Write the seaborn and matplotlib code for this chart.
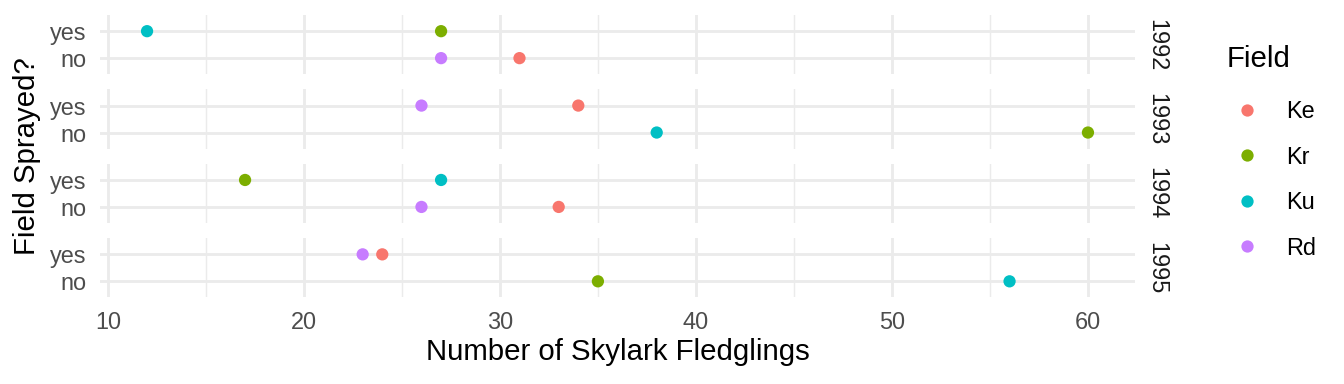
import matplotlib
matplotlib.use("Agg")
import matplotlib.pyplot as plt
import seaborn as sns
import pandas as pd
from matplotlib.lines import Line2D
from matplotlib.ticker import MultipleLocator

# ---- data ----
years = [1992, 1993, 1994, 1995]
fields = ["Ke", "Kr", "Ku", "Rd"]
sprayed_levels = ["yes", "no"]  # top to bottom within each panel

# counts per year, in field order Ke, Kr, Ku, Rd
fledglings_1992 = [31, 27, 12, 27]
sprayed_1992 = ["no", "yes", "yes", "no"]
fledglings_1993 = [34, 60, 38, 26]
sprayed_1993 = ["yes", "no", "no", "yes"]
fledglings_1994 = [33, 17, 27, 26]
sprayed_1994 = ["no", "yes", "yes", "no"]
fledglings_1995 = [24, 35, 56, 23]
sprayed_1995 = ["yes", "no", "no", "yes"]

field_colors = ["#F8766D", "#7CAE00", "#00BFC4", "#C77CFF"]

x_ticks = [10, 20, 30, 40, 50, 60]

counts = {1992: fledglings_1992, 1993: fledglings_1993, 1994: fledglings_1994, 1995: fledglings_1995}
sprays = {1992: sprayed_1992, 1993: sprayed_1993, 1994: sprayed_1994, 1995: sprayed_1995}
rows = []
for yr in years:
    for f, c, s in zip(fields, counts[yr], sprays[yr]):
        rows.append({"Year": yr, "Field": f, "Fledglings": c, "Sprayed": s})
df = pd.DataFrame(rows)

# ---- style ----
FONT = ["Liberation Sans", "DejaVu Sans"]
plt.rcParams["font.family"] = FONT
PX = 1 / 1344
PY = 1 / 384
GRID = "#EBEBEB"

fig = plt.figure(figsize=(7, 2), dpi=192)
axes = fig.subplots(4, 1, sharex=True)
fig.subplots_adjust(left=100 * PX, right=1135 * PX, top=1 - 15 * PY,
                    bottom=1 - 297.5 * PY, hspace=15 / 59)

palette = dict(zip(fields, field_colors))
for ax, yr in zip(axes, years):
    sub = df[df["Year"] == yr]
    sns.stripplot(data=sub, x="Fledglings", y="Sprayed", hue="Field",
                  hue_order=fields, order=sprayed_levels, palette=palette,
                  jitter=False, dodge=False, size=4.6, linewidth=0,
                  orient="h", ax=ax, legend=False, zorder=3)
    ax.set_xlim(9.6, 62.4)
    ax.set_ylim(1.6, -0.6)
    ax.xaxis.set_major_locator(MultipleLocator(10))
    ax.xaxis.set_minor_locator(MultipleLocator(5))
    ax.grid(which="major", axis="both", color=GRID, linewidth=1.07, zorder=0)
    ax.grid(which="minor", axis="x", color=GRID, linewidth=0.53, zorder=0)
    ax.set_axisbelow(True)
    for sp in ax.spines.values():
        sp.set_visible(False)
    ax.tick_params(which="both", length=0, pad=4.95, labelsize=8.8,
                   labelcolor="#4D4D4D")
    ax.set_xlabel("")
    ax.set_ylabel("")
    ax.annotate(str(yr), xy=(1, 0.5), xycoords="axes fraction",
                xytext=(8.3, 0), textcoords="offset points",
                rotation=-90, ha="center", va="center", fontsize=8.8,
                color="#1A1A1A")

axes[-1].set_xticks(x_ticks)

fig.text(617.5 * PX, 1 - 352 * PY, "Number of Skylark Fledglings",
         ha="center", va="center", fontsize=11, color="black")
fig.text(27 * PX, 1 - 156 * PY, "Field Sprayed?", rotation=90,
         ha="center", va="center", fontsize=11, color="black")

handles = [Line2D([], [], marker="o", linestyle="", markersize=4.6,
                  markerfacecolor=c, markeredgewidth=0) for c in field_colors]
leg = fig.legend(handles, fields, title="Field", loc="upper left",
                 bbox_to_anchor=(1227 * PX, 1 - 45 * PY), frameon=False,
                 borderpad=0, borderaxespad=0, fontsize=8.8,
                 title_fontsize=11, handlelength=1.7, handletextpad=0.81,
                 labelspacing=0.96, alignment="left")
leg._legend_box.sep = 10.15

fig.savefig("out.png", dpi=192)
